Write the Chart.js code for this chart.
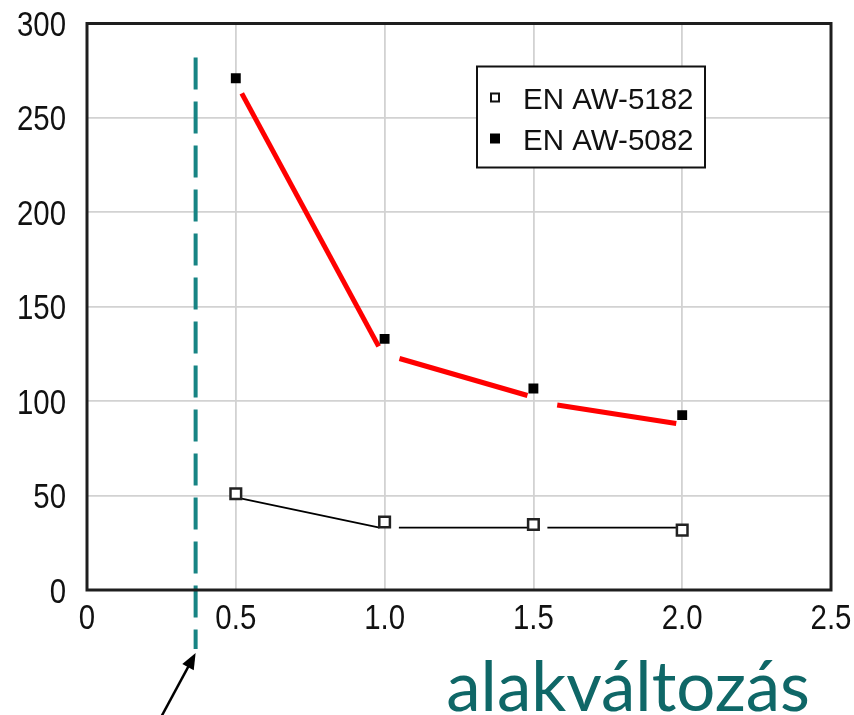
<!DOCTYPE html>
<html>
<head>
<meta charset="utf-8">
<script src="https://cdn.jsdelivr.net/npm/chart.js@4/dist/chart.umd.min.js"></script>
<style>
  html, body { margin: 0; padding: 0; background: #ffffff; }
  canvas { display: block; }
</style>
</head>
<body>
<canvas id="chart" width="854" height="715"></canvas>
<script>
// Strain levels (x) and measured values for the two alloys
const strain = [0.5, 1.0, 1.5, 2.0];
const aw5182 = [51, 36, 34.7, 31.7];
const aw5082 = [271, 133, 106.7, 92.6];

// Trend segments drawn beside the measured points
const redTrend = [
  [[0.52, 263], [0.98, 129]],
  [[1.05, 122.6], [1.48, 103]],
  [[1.58, 98], [1.98, 88.2]]
];
const blackTrend = [
  [[0.516, 48.5], [0.983, 33]],
  [[1.048, 33], [1.497, 33]],
  [[1.547, 33], [1.979, 33]]
];

// Marked strain threshold (dashed vertical)
const thresholdX = 0.365;
const thresholdSpan = [282, -31.3];

// Axis ranges / ticks
const xRange = [0, 2.5];
const xStep = 0.5;
const yRange = [0, 300];
const yStep = 50;

const legendLabels = ['EN AW-5182', 'EN AW-5082'];
const noteText = 'alakváltozás';

const fmtX = v => (v === 0 ? '0' : v.toFixed(1));
const fmtY = v => String(v);

const pairs = (xs, ys) => xs.map((x, i) => ({ x: x, y: ys[i] }));
const seg = s => s.map(p => ({ x: p[0], y: p[1] }));

const datasets = [
  {
    label: legendLabels[1], data: pairs(strain, aw5082), showLine: false,
    pointStyle: 'rect', pointRadius: 7, backgroundColor: '#000', borderColor: '#000', borderWidth: 0
  },
  {
    label: legendLabels[0], data: pairs(strain, aw5182), showLine: false,
    pointStyle: 'rect', pointRadius: 7.5, backgroundColor: '#fff', borderColor: '#222', borderWidth: 2.5
  },
  ...redTrend.map(s => ({
    data: seg(s), showLine: true, borderColor: '#ff0000', borderWidth: 5, pointRadius: 0, borderCapStyle: 'butt'
  })),
  ...blackTrend.map(s => ({
    data: seg(s), showLine: true, borderColor: '#000', borderWidth: 1.8, pointRadius: 0
  })),
  {
    data: [{ x: thresholdX, y: thresholdSpan[0] }, { x: thresholdX, y: thresholdSpan[1] }],
    showLine: true, borderColor: '#178484', borderWidth: 4, borderDash: [32, 12],
    borderCapStyle: 'butt', pointRadius: 0, clip: false
  }
];

// Condensed tick text: Liberation Sans squeezed horizontally
function condensedText(ctx, text, x, y, align) {
  ctx.save();
  ctx.translate(x, y);
  ctx.scale(0.84, 1);
  ctx.textAlign = align;
  ctx.fillText(text, 0, 0);
  ctx.restore();
}

const tickLabels = {
  id: 'tickLabels',
  afterDraw(chart) {
    const { ctx, chartArea: a, scales } = chart;
    ctx.save();
    ctx.font = '35px "Liberation Sans", Arial, sans-serif';
    ctx.fillStyle = '#111';
    ctx.textBaseline = 'alphabetic';
    scales.y.ticks.forEach(t => {
      const py = scales.y.getPixelForValue(t.value);
      condensedText(ctx, fmtY(t.value), a.left - 21, py + 12.5, 'right');
    });
    scales.x.ticks.forEach(t => {
      const px = scales.x.getPixelForValue(t.value);
      condensedText(ctx, fmtX(t.value), px, a.bottom + 38.5, 'center');
    });
    ctx.restore();
  }
};

// Frame, in-plot legend, arrow and annotation text
const decorations = {
  id: 'decorations',
  afterDatasetsDraw(chart) {
    const { ctx, chartArea: a, scales } = chart;
    ctx.save();
    // plot frame
    ctx.strokeStyle = '#1e1e1e';
    ctx.lineWidth = 3;
    ctx.strokeRect(a.left, a.top, a.right - a.left, a.bottom - a.top);

    // legend box
    const lx = a.left + 390, ly = a.top + 43, lw = 228, lh = 101;
    ctx.fillStyle = '#fff';
    ctx.fillRect(lx, ly, lw, lh);
    ctx.strokeStyle = '#111';
    ctx.lineWidth = 2;
    ctx.strokeRect(lx, ly, lw, lh);
    ctx.font = '29.5px "Liberation Sans", Arial, sans-serif';
    ctx.textBaseline = 'alphabetic';
    ctx.textAlign = 'left';
    const rows = [ly + 31, ly + 72];
    ctx.lineWidth = 2;
    ctx.strokeStyle = '#111';
    ctx.strokeRect(lx + 14, rows[0] - 4, 8, 8);
    ctx.fillStyle = '#000';
    ctx.fillRect(lx + 13, rows[1] - 5, 10, 10);
    ctx.fillStyle = '#111';
    ctx.fillText(legendLabels[0], lx + 46, rows[0] + 11);
    ctx.fillText(legendLabels[1], lx + 46, rows[1] + 11);

    // arrow pointing at the bottom of the dashed threshold
    const tx = scales.x.getPixelForValue(thresholdX);
    const ty = scales.y.getPixelForValue(thresholdSpan[1]) + 4;
    const sx = tx - 34, sy = ty + 63;
    const ang = Math.atan2(ty - sy, tx - sx);
    const c = Math.cos(ang), s = Math.sin(ang);
    ctx.strokeStyle = '#000';
    ctx.lineWidth = 2.5;
    ctx.beginPath();
    ctx.moveTo(sx, sy);
    ctx.lineTo(tx - 10 * c, ty - 10 * s);
    ctx.stroke();
    ctx.fillStyle = '#000';
    ctx.beginPath();
    ctx.moveTo(tx, ty);
    ctx.lineTo(tx - 16 * c + 6.5 * s, ty - 16 * s - 6.5 * c);
    ctx.lineTo(tx - 16 * c - 6.5 * s, ty - 16 * s + 6.5 * c);
    ctx.closePath();
    ctx.fill();

    // annotation word
    ctx.font = '69px Lato, "Open Sans", sans-serif';
    ctx.fillStyle = '#0f6767';
    ctx.textAlign = 'right';
    ctx.textBaseline = 'alphabetic';
    ctx.fillText(noteText, a.right - 21, chart.height - 4);
    ctx.restore();
  }
};

const whiteBg = {
  id: 'whiteBg',
  beforeDraw(chart) {
    const { ctx } = chart;
    ctx.save();
    ctx.fillStyle = '#fff';
    ctx.fillRect(0, 0, chart.width, chart.height);
    ctx.restore();
  }
};

new Chart(document.getElementById('chart'), {
  type: 'scatter',
  data: { datasets: datasets },
  options: {
    responsive: false,
    animation: false,
    devicePixelRatio: 1,
    layout: { padding: { top: 23.5, right: 23, left: 0, bottom: 0 } },
    plugins: { legend: { display: false }, tooltip: { enabled: false } },
    scales: {
      x: {
        type: 'linear', min: xRange[0], max: xRange[1],
        afterFit(s) { s.height = 125; },
        grid: { color: '#d2d2d2', lineWidth: 1.8, drawTicks: false },
        border: { display: false },
        ticks: { stepSize: xStep, display: false }
      },
      y: {
        type: 'linear', min: yRange[0], max: yRange[1],
        afterFit(s) { s.width = 87; },
        grid: { color: '#d2d2d2', lineWidth: 1.8, drawTicks: false },
        border: { display: false },
        ticks: { stepSize: yStep, display: false }
      }
    }
  },
  plugins: [whiteBg, decorations, tickLabels]
});
</script>
</body>
</html>
